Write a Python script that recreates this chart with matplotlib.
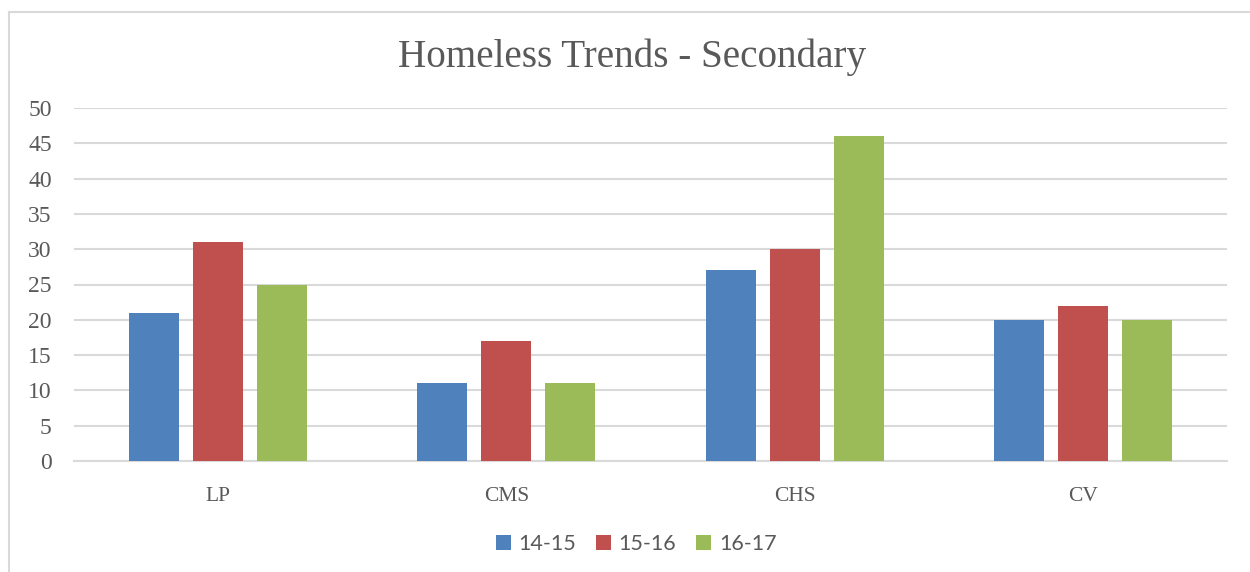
import numpy as np
import matplotlib
matplotlib.use('Agg')
import matplotlib.pyplot as plt
from matplotlib.lines import Line2D

categories = ['LP', 'CMS', 'CHS', 'CV']
series_names = ['14-15', '15-16', '16-17']
vals_1415 = [21, 11, 27, 20]
vals_1516 = [31, 17, 30, 22]
vals_1617 = [25, 11, 46, 20]
yticks = [0, 5, 10, 15, 20, 25, 30, 35, 40, 45, 50]

colors = ['#4f81bd', '#c0504d', '#9bbb59']
text_col = '#595959'
grid_col = '#d9d9d9'
serif = 'Liberation Serif'
sans = 'Lato'

fig = plt.figure(figsize=(12.5, 5.72), dpi=100)
ax = fig.add_axes([74 / 1250, 1 - 461 / 572, (1227 - 74) / 1250, (461 - 108) / 572])

x = np.arange(len(categories))
width = 0.173
step = 0.222
for i, (vals, name) in enumerate(zip([vals_1415, vals_1516, vals_1617], series_names)):
    ax.bar(x + (i - 1) * step, vals, width, color=colors[i], label=name, zorder=3)

ax.set_xlim(-0.5, len(categories) - 0.5)
ax.set_ylim(0, 50)
ax.set_yticks(yticks)
ax.set_yticklabels([str(t) for t in yticks], family=serif, fontsize=17, color=text_col)
ax.set_xticks(x)
ax.set_xticklabels(categories, family=serif, fontsize=15.5, color=text_col)
ax.tick_params(axis='both', length=0)
ax.tick_params(axis='y', pad=16)
ax.tick_params(axis='x', pad=19)
ax.yaxis.grid(True, color=grid_col, linewidth=1.5, zorder=0)
for s in ['top', 'right', 'left']:
    ax.spines[s].set_visible(False)
ax.spines['bottom'].set_color(grid_col)
ax.spines['bottom'].set_linewidth(1.5)

fig.text(632 / 1250, 1 - 57 / 572, 'Homeless Trends - Secondary', ha='center', va='center',
         family=serif, fontsize=28.2, color=text_col)

leg = fig.legend(loc='center', bbox_to_anchor=(636 / 1250, 1 - 544 / 572), ncol=3, frameon=False,
                 handlelength=0.72, handleheight=0.72, handletextpad=0.35, columnspacing=0.9,
                 prop={'family': sans, 'size': 15.5})
for t in leg.get_texts():
    t.set_color(text_col)

# chart frame: top and left edges only
fig.add_artist(Line2D([8.5 / 1250, 1], [1 - 11.5 / 572] * 2, color=grid_col, linewidth=1.5))
fig.add_artist(Line2D([8.5 / 1250] * 2, [0, 1 - 11.5 / 572], color=grid_col, linewidth=1.5))

fig.savefig('out.png', dpi=100)
